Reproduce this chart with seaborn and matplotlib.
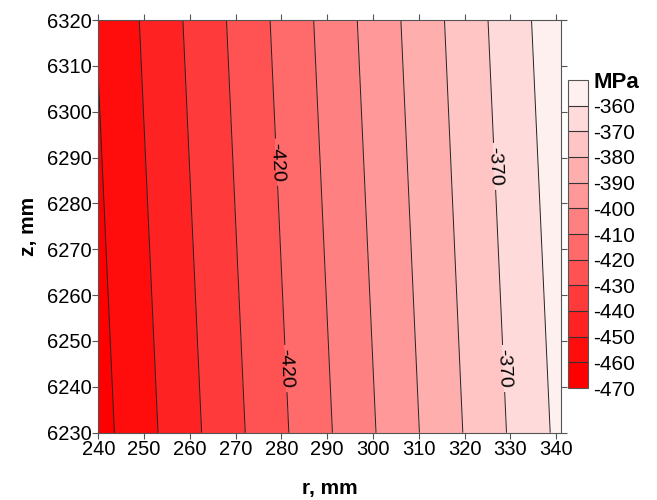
import numpy as np
import seaborn as sns
import matplotlib.pyplot as plt
from matplotlib.colors import ListedColormap, BoundaryNorm

plt.ioff()

sns.set_style("ticks")
plt.rcParams["font.family"] = ["Liberation Sans", "DejaVu Sans"]
plt.rcParams["text.color"] = "black"
plt.rcParams["xtick.labelcolor"] = "black"
plt.rcParams["ytick.labelcolor"] = "black"
plt.rcParams["axes.labelcolor"] = "black"

# stress field (MPa), rows = z, columns = r
r_mm = [240, 260, 280, 300, 320, 341]
z_mm = [6230, 6320]
stress_bottom = [-463.7, -442.7, -421.7, -400.7, -379.6, -357.6]
stress_top = [-459.4, -438.4, -417.4, -396.4, -375.4, -353.3]

levels = list(range(-470, -349, 10))
labelled_levels = [-420, -370]
cbar_labels = ["MPa" if v == -350 else str(v) for v in levels]
x_ticks = list(range(240, 341, 10))
y_ticks = list(range(6230, 6321, 10))

# fill colours, from -470 up to -350
fill_colors = ["#ff0000", "#ff0d0d", "#ff2222", "#ff3a3a", "#ff5252", "#ff6a6a",
               "#ff8080", "#ff9898", "#ffaeae", "#ffc4c4", "#ffdada", "#fff0f0"]

if __name__ == "__main__":
    stress = np.array([stress_bottom, stress_top])

    cmap = ListedColormap(sns.color_palette(fill_colors))
    norm = BoundaryNorm(levels, cmap.N)

    fig = plt.figure(figsize=(6.57, 5.0), dpi=100)
    ax = fig.add_axes([0.1496, 0.1346, 0.7038, 0.8254])
    cax = fig.add_axes([0.8645, 0.224, 0.0305, 0.616])

    line_kw = dict(colors="#222222", linewidths=0.7, linestyles="solid")
    cf = ax.contourf(r_mm, z_mm, stress, levels=levels, cmap=cmap, norm=norm)
    plain = [v for v in levels if v not in labelled_levels]
    ax.contour(r_mm, z_mm, stress, levels=plain, **line_kw)
    cl = ax.contour(r_mm, z_mm, stress, levels=labelled_levels, **line_kw)
    ax.clabel(cl, fmt="%d", fontsize=14, colors="black", inline=True, inline_spacing=4,
              manual=[(279, 6289), (281, 6244), (325, 6288), (328.5, 6244)])

    ax.set_xlim(240, 341)
    ax.set_ylim(6230, 6320)
    ax.set_xticks(x_ticks)
    ax.set_yticks(y_ticks)
    ax.tick_params(labelsize=14.5, length=4, width=0.8, color="#555555", pad=1,
                   top=True, right=True, direction="out")
    for s in ax.spines.values():
        s.set_color("#555555")
        s.set_linewidth(0.8)

    ax.set_xlabel("r, mm", fontsize=15, fontweight="bold", labelpad=15)
    ax.set_ylabel("z, mm", fontsize=15, fontweight="bold", labelpad=6)

    cb = fig.colorbar(cf, cax=cax, drawedges=True)
    cb.set_ticks(levels)
    cb.set_ticklabels(cbar_labels)
    cb.ax.tick_params(length=0, labelsize=15, pad=4)
    cb.outline.set_edgecolor("#555555")
    cb.outline.set_linewidth(0.8)
    cb.dividers.set_color("#333333")
    cb.dividers.set_linewidth(0.8)
    for t in cb.ax.get_yticklabels():
        if t.get_text() == "MPa":
            t.set_fontsize(16)
            t.set_fontweight("bold")

    fig.savefig("out.png", dpi=100)
